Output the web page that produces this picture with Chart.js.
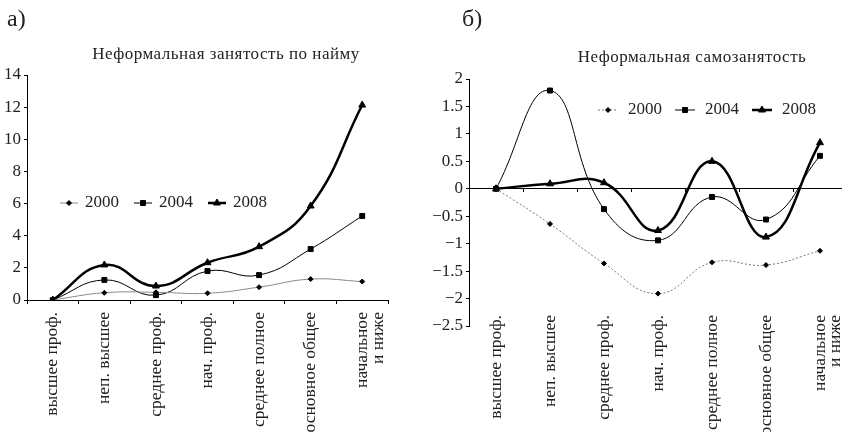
<!DOCTYPE html>
<html>
<head>
<meta charset="utf-8">
<script src="https://cdn.jsdelivr.net/npm/chart.js@4/dist/chart.umd.min.js"></script>
<style>
  html, body { margin: 0; padding: 0; background: #fff; overflow: hidden; }
  body { width: 842px; height: 432px; position: relative; overflow: hidden; }
  .box { position: absolute; top: 0; height: 432px; }
  #boxA { left: 0; width: 420px; }
  #boxB { left: 420px; width: 432px; }
</style>
</head>
<body>
<div class="box" id="boxA"><canvas id="chartA"></canvas></div>
<div class="box" id="boxB"><canvas id="chartB"></canvas></div>
<script>
// categories (education level)
const categories = ['высшее проф.', 'неп. высшее', 'среднее проф.', 'нач. проф.', 'среднее полное', 'основное общее', ['начальное', 'и ниже']];
const years = ['2000', '2004', '2008'];

// а) informal hired employment
const hired2000 = [0, 0.45, 0.48, 0.42, 0.8, 1.3, 1.15];
const hired2004 = [0, 1.25, 0.3, 1.8, 1.55, 3.17, 5.23];
const hired2008 = [0, 2.18, 0.87, 2.32, 3.32, 5.85, 12.13];

// б) informal self-employment
const self2000 = [0, -0.64, -1.36, -1.91, -1.34, -1.39, -1.13];
const self2004 = [0, 1.79, -0.37, -0.94, -0.15, -0.56, 0.6];
const self2008 = [0, 0.09, 0.11, -0.76, 0.5, -0.88, 0.84];

const SERIF = "'Liberation Serif', 'DejaVu Serif', serif";
Chart.defaults.font.family = SERIF;
Chart.defaults.color = '#222';

// small plugin: free text (panel letter, title)
function captions(items) {
    return {
        id: 'captions',
        afterDraw(chart) {
            const ctx = chart.ctx;
            ctx.save();
            items.forEach(t => {
                ctx.font = t.font;
                ctx.letterSpacing = t.spacing || '0px';
                ctx.fillStyle = '#222';
                ctx.textAlign = t.align || 'left';
                ctx.textBaseline = 'middle';
                ctx.fillText(t.text, t.x, t.y);
            });
            ctx.restore();
        }
    };
}

// legend drawn inside the plot area, in one row
function inlineLegend(pos) {
    return {
        id: 'inlineLegend',
        afterDraw(chart) {
            const ctx = chart.ctx;
            let x = pos.x;
            ctx.save();
            ctx.font = pos.font;
            ctx.textBaseline = 'middle';
            chart.data.datasets.forEach(ds => {
                ctx.strokeStyle = ds.borderColor;
                ctx.lineWidth = ds.borderWidth;
                ctx.setLineDash(ds.borderDash || []);
                ctx.beginPath();
                ctx.moveTo(x, pos.y);
                ctx.lineTo(x + pos.lineLen, pos.y);
                ctx.stroke();
                ctx.setLineDash([]);
                ctx.fillStyle = '#000';
                ctx.strokeStyle = '#000';
                ctx.lineWidth = 1;
                Chart.helpers.drawPoint(ctx, {pointStyle: ds.pointStyle, radius: ds.pointRadius, rotation: 0, borderWidth: 1}, x + pos.lineLen / 2, pos.y);
                x += pos.lineLen + pos.textGap;
                ctx.fillStyle = '#222';
                ctx.fillText(ds.label, x, pos.y);
                x += ctx.measureText(ds.label).width + pos.itemGap;
            });
            ctx.restore();
        }
    };
}

// category labels of panel б) start a little above the bottom of the y axis
const liftLabels = {
    id: 'liftLabels',
    afterLayout(chart) {
        chart.scales.x.top -= 11;
    }
};

function series(label, data, style) {
    return Object.assign({
        label: label,
        data: data,
        borderColor: '#000',
        backgroundColor: '#000',
        pointBackgroundColor: '#000',
        pointBorderColor: '#000',
        pointBorderWidth: 1,
        tension: 0.45,
        fill: false
    }, style);
}

function minus(v) {
    return v < 0 ? '\u2212' + Math.abs(v) : String(v);
}

const labelFont = {size: 17.5, lineHeight: 0.9};

new Chart(document.getElementById('chartA'), {
    type: 'line',
    data: {
        labels: categories,
        datasets: [
            series(years[0], hired2000, {borderColor: '#8a8a8a', borderWidth: 1, pointStyle: 'rectRot', pointRadius: 2.5}),
            series(years[1], hired2004, {borderWidth: 1, pointStyle: 'rect', pointRadius: 3.5}),
            series(years[2], hired2008, {borderWidth: 2.5, pointStyle: 'triangle', pointRadius: 4})
        ]
    },
    options: {
        responsive: true,
        maintainAspectRatio: false,
        animation: false,
        layout: {padding: {top: 75, right: 32, left: 0, bottom: 0}},
        plugins: {legend: {display: false}, title: {display: false}, tooltip: {enabled: false}},
        scales: {
            x: {
                offset: true,
                grid: {offset: true, drawOnChartArea: false, tickLength: 4, tickColor: '#000'},
                border: {color: '#000'},
                ticks: {minRotation: 90, maxRotation: 90, autoSkip: false, padding: 8, font: labelFont},
                afterFit: s => { s.height = 132; }
            },
            y: {
                min: 0, max: 14,
                ticks: {stepSize: 2, padding: 3, font: {size: 17}},
                grid: {drawOnChartArea: false, tickLength: 3, tickColor: '#000'},
                border: {color: '#000'},
                afterFit: s => { s.width = 27; }
            }
        }
    },
    plugins: [
        captions([
            {text: 'а)', x: 7, y: 20, font: '24px ' + SERIF},
            {text: 'Неформальная занятость по найму', x: 226, y: 55, font: '17px ' + SERIF, align: 'center', spacing: '0.5px'}
        ]),
        inlineLegend({x: 60, y: 203, lineLen: 18, textGap: 7, itemGap: 15, font: '17px ' + SERIF})
    ]
});

new Chart(document.getElementById('chartB'), {
    type: 'line',
    data: {
        labels: categories,
        datasets: [
            series(years[0], self2000, {borderColor: '#777', borderWidth: 1, borderDash: [2, 2], pointStyle: 'rectRot', pointRadius: 2.5}),
            series(years[1], self2004, {borderWidth: 1, pointStyle: 'rect', pointRadius: 3.5}),
            series(years[2], self2008, {borderWidth: 2.5, pointStyle: 'triangle', pointRadius: 4})
        ]
    },
    options: {
        responsive: true,
        maintainAspectRatio: false,
        animation: false,
        layout: {padding: {top: 79, right: 4, left: 0, bottom: 0}},
        plugins: {legend: {display: false}, title: {display: false}, tooltip: {enabled: false}},
        scales: {
            x: {
                offset: true,
                grid: {display: false, drawTicks: false, tickLength: 0},
                border: {display: false},
                ticks: {minRotation: 90, maxRotation: 90, autoSkip: false, padding: 0, font: labelFont},
                afterFit: s => { s.height = 106; }
            },
            // tick marks along the zero line
            x0: {
                type: 'category',
                position: {y: 0},
                offset: true,
                grid: {offset: true, drawOnChartArea: false, tickLength: 3, tickColor: '#000'},
                border: {display: false},
                ticks: {display: false},
                afterFit: s => { s.height = 0; }
            },
            y: {
                min: -2.5, max: 2,
                ticks: {stepSize: 0.5, padding: 3, font: {size: 17}, callback: v => minus(v)},
                grid: {
                    color: c => (c.tick && c.tick.value === 0 ? '#000' : 'rgba(0,0,0,0)'),
                    tickColor: '#000',
                    tickLength: 3
                },
                border: {color: '#000'},
                afterFit: s => { s.width = 49; }
            }
        }
    },
    plugins: [
        liftLabels,
        captions([
            {text: 'б)', x: 42, y: 20, font: '24px ' + SERIF},
            {text: 'Неформальная самозанятость', x: 272, y: 58, font: '17px ' + SERIF, align: 'center', spacing: '0.5px'}
        ]),
        inlineLegend({x: 178, y: 110, lineLen: 20, textGap: 10, itemGap: 13, font: '17px ' + SERIF})
    ]
});
</script>
</body>
</html>
